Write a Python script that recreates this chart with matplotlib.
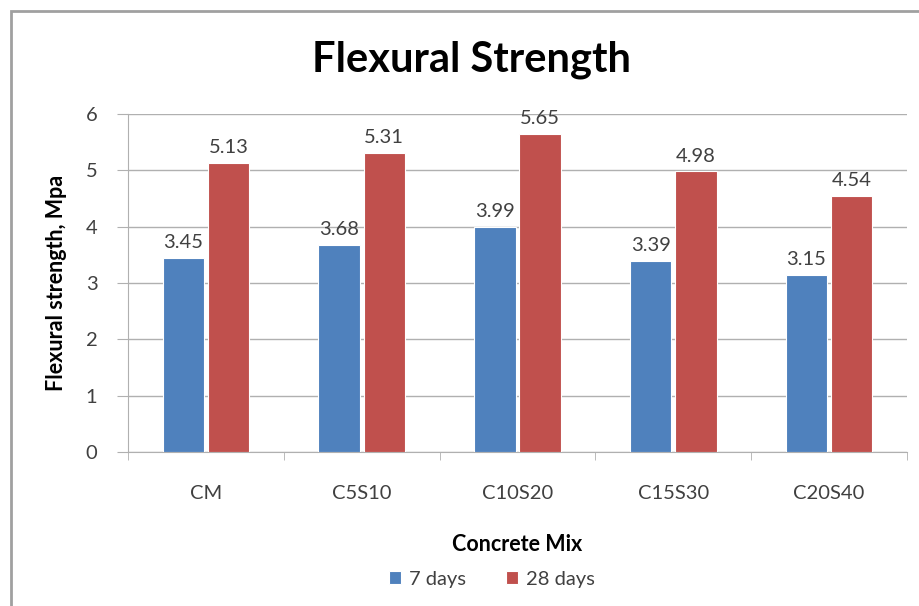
import numpy as np
import matplotlib
matplotlib.use("Agg")
import matplotlib.pyplot as plt
from matplotlib.patches import Rectangle

mixes = ["CM", "C5S10", "C10S20", "C15S30", "C20S40"]
days7 = [3.45, 3.68, 3.99, 3.39, 3.15]
days28 = [5.13, 5.31, 5.65, 4.98, 4.54]
series_names = ["7 days", "28 days"]

BLUE = "#4F81BD"
RED = "#C0504D"
TXT = "#404040"
GRID = "#B0B0B0"

plt.rcParams["font.family"] = ["Lato", "DejaVu Sans"]

fig = plt.figure(figsize=(9.2, 6.06), dpi=100)
W, H = 920, 606

# chart frame
fig.patches.append(Rectangle((11 / W, -0.05), 1.0, 1.05 - 11 / H, transform=fig.transFigure,
                             fill=False, edgecolor="#A0A0A0", linewidth=2.0))

ax = fig.add_axes([128 / W, 1 - 452 / H, (907 - 128) / W, (452 - 114) / H])

x = np.arange(len(mixes))
w = 0.265
off = 0.145
b1 = ax.bar(x - off, days7, w, color=BLUE, edgecolor="white", linewidth=0.8, label=series_names[0], zorder=3)
b2 = ax.bar(x + off, days28, w, color=RED, edgecolor="white", linewidth=0.8, label=series_names[1], zorder=3)

for bars, vals in ((b1, days7), (b2, days28)):
    for rect, v in zip(bars, vals):
        ax.annotate(f"{v:.2f}", (rect.get_x() + rect.get_width() / 2, v),
                    xytext=(0, 5), textcoords="offset points",
                    ha="center", va="bottom", fontsize=14.5, color=TXT, zorder=4)

ax.set_xlim(-0.5, len(mixes) - 0.5)
ax.set_ylim(0, 6)
ax.set_yticks(range(0, 7))
ax.yaxis.grid(True, color=GRID, linewidth=1.0, zorder=0)
ax.set_axisbelow(True)

for s in ["top", "right"]:
    ax.spines[s].set_visible(False)
ax.spines["left"].set_color(GRID)
ax.spines["bottom"].set_color(GRID)

ax.tick_params(axis="y", length=8, color=GRID, labelsize=14.5, labelcolor=TXT, pad=14)
ax.set_xticks(x)
ax.set_xticklabels(mixes)
ax.tick_params(axis="x", length=0, labelsize=14.5, labelcolor=TXT, pad=24)
ax.set_xticks(np.arange(-0.5, len(mixes)), minor=True)
ax.tick_params(axis="x", which="minor", length=6, color=GRID)

ax.set_ylabel("Flexural strength, Mpa", fontsize=15.5, fontweight="bold", color="black")
ax.yaxis.set_label_coords(-0.078, 0.5)
ax.set_xlabel("Concrete Mix", fontsize=15.5, fontweight="bold", color="black", labelpad=23)

fig.text(472 / W, 1 - 60 / H, "Flexural Strength", ha="center", va="center",
         fontsize=30, fontweight="bold", color="black")

fig.legend(handles=[b1, b2], labels=series_names, loc="center", bbox_to_anchor=(492 / W, 1 - 579 / H),
           ncol=2, frameon=False, fontsize=14.5, labelcolor=TXT, handlelength=0.6, handleheight=0.6,
           handletextpad=0.4, columnspacing=2.0)

fig.savefig("out.png", dpi=100, facecolor="white")
